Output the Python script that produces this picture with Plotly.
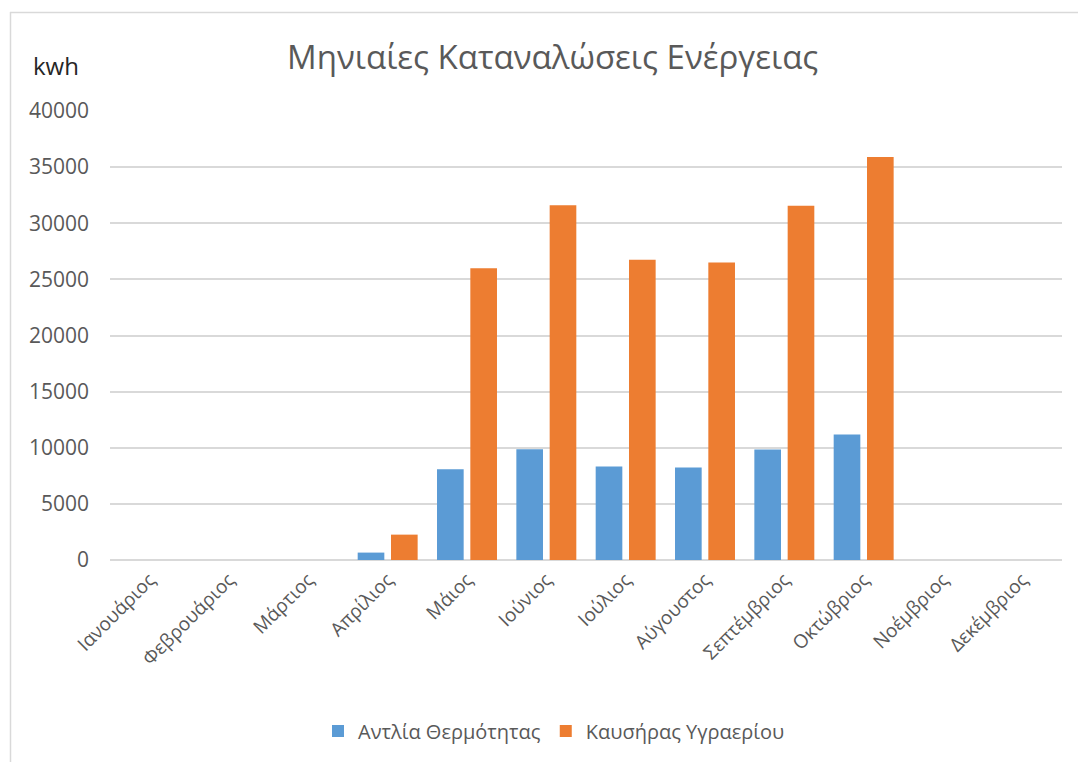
import plotly.graph_objects as go

# Monthly energy consumption (kWh)
months = ["Ιανουάριος", "Φεβρουάριος", "Μάρτιος", "Απρίλιος", "Μάιος", "Ιούνιος",
          "Ιούλιος", "Αύγουστος", "Σεπτέμβριος", "Οκτώβριος", "Νοέμβριος", "Δεκέμβριος"]
heat_pump = [0, 0, 0, 660, 8080, 9870, 8320, 8250, 9840, 11180, 0, 0]
oil_burner = [0, 0, 0, 2260, 26000, 31600, 26750, 26500, 31550, 35900, 0, 0]
series_names = ["Αντλία Θερμότητας", "Καυσήρας Υγραερίου"]
y_ticks = [0, 5000, 10000, 15000, 20000, 25000, 30000, 35000, 40000]

BLUE = "#5B9BD5"
ORANGE = "#ED7D31"
TEXT = "#595959"
GRID = "#D9D9D9"
FONT = "Open Sans"

W, H = 1078, 762
L, R, T, B = 110, 16, 111, 202
pw, ph = W - L - R, H - T - B


def px_x(x):
    return (x - L) / pw


def px_y(y):
    return (H - B - y) / ph


fig = go.Figure()
fig.add_trace(go.Bar(x=months, y=heat_pump, name=series_names[0],
                     marker=dict(color=BLUE, line=dict(width=0))))
fig.add_trace(go.Bar(x=months, y=oil_burner, name=series_names[1],
                     marker=dict(color=ORANGE, line=dict(width=0))))

fig.update_layout(
    width=W, height=H,
    margin=dict(l=L, r=R, t=T, b=B),
    paper_bgcolor="white", plot_bgcolor="white",
    barmode="group", bargap=0.16, bargroupgap=0.2,
    font=dict(family=FONT, color=TEXT),
    showlegend=True,
    legend=dict(orientation="h", x=px_x(554), y=px_y(731), xanchor="center", yanchor="middle",
                font=dict(size=20, color=TEXT), itemclick=False, traceorder="normal",
                itemwidth=30),
    xaxis=dict(tickangle=-45, tickfont=dict(size=19, color=TEXT), showgrid=False,
               showline=False, ticks="", ticklabelstandoff=4),
    yaxis=dict(range=[0, 40000], tickvals=y_ticks, ticktext=[str(v) for v in y_ticks],
               showgrid=True, gridcolor=GRID, gridwidth=1.5,
               zeroline=True, zerolinecolor=GRID, zerolinewidth=1.5,
               tickfont=dict(size=21, color=TEXT), ticklabelstandoff=20, ticks=""),
)

fig.add_annotation(text="Μηνιαίες Καταναλώσεις Ενέργειας", xref="paper", yref="paper",
                   x=px_x(552), y=px_y(57), xanchor="center", yanchor="middle",
                   showarrow=False, font=dict(size=33, color=TEXT, family=FONT))
fig.add_annotation(text="kwh", xref="paper", yref="paper",
                   x=px_x(31), y=px_y(65), xanchor="left", yanchor="middle",
                   showarrow=False, font=dict(size=24, color="#262626", family=FONT))

# chart frame (top and left edges)
fig.add_shape(type="line", xref="paper", yref="paper",
              x0=px_x(10), x1=px_x(1078), y0=px_y(12.5), y1=px_y(12.5),
              line=dict(color=GRID, width=1.5))
fig.add_shape(type="line", xref="paper", yref="paper",
              x0=px_x(10.5), x1=px_x(10.5), y0=px_y(12), y1=px_y(762),
              line=dict(color=GRID, width=1.5))

fig.write_html("out.html")
